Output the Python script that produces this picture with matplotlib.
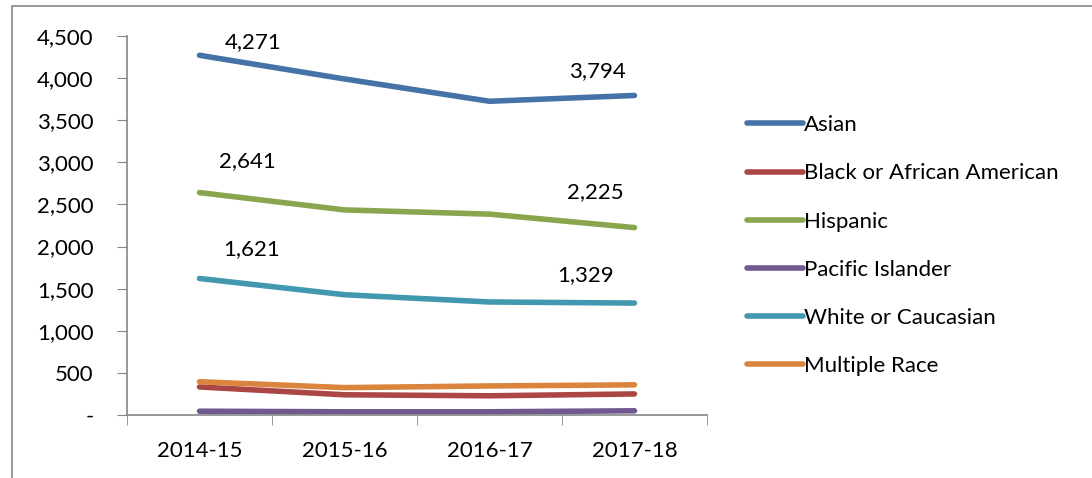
import matplotlib.pyplot as plt
from matplotlib.patches import Rectangle
from matplotlib.ticker import FuncFormatter

plt.rcParams['font.family'] = ['Lato', 'DejaVu Sans']

# Données
years = ['2014-15', '2015-16', '2016-17', '2017-18']
asian = [4271, 3990, 3725, 3794]
black = [333, 240, 228, 250]
hispanic = [2641, 2435, 2385, 2225]
pacific = [45, 38, 38, 50]
white = [1621, 1428, 1342, 1329]
multiple = [395, 325, 345, 358]

series = [
    ('Asian', asian, '#4572A7'),
    ('Black or African American', black, '#AA4643'),
    ('Hispanic', hispanic, '#89A54E'),
    ('Pacific Islander', pacific, '#71588F'),
    ('White or Caucasian', white, '#4198AF'),
    ('Multiple Race', multiple, '#DB843D'),
]

fig = plt.figure(figsize=(10.92, 4.78), dpi=100)
ax = fig.add_axes([0.1163, 0.1318, 0.5311, 0.7929])

x = list(range(len(years)))
for name, vals, col in series:
    ax.plot(x, vals, color=col, lw=4, solid_capstyle='round', label=name)

# Etiquettes de valeurs (premier et dernier point)
labels = [
    (asian, 0, 54, 13), (asian, 3, -37, 24),
    (hispanic, 0, 48, 31), (hispanic, 3, -39, 36),
    (white, 0, 52, 29), (white, 3, -49, 28),
]
for vals, i, dx, dy in labels:
    ax.annotate(f"{vals[i]:,}", (x[i], vals[i]), xytext=(dx, dy),
                textcoords='offset pixels', ha='center', va='center', fontsize=16)

ax.set_xlim(-0.5, 3.5)
ax.set_ylim(0, 4500)
ax.set_yticks(range(0, 4501, 500))
ax.yaxis.set_major_formatter(FuncFormatter(lambda v, p: '-' if v == 0 else f"{int(v):,}"))
ax.set_xticks(x)
ax.set_xticklabels(years)
ax.set_xticks([-0.5, 0.5, 1.5, 2.5, 3.5], minor=True)
ax.tick_params(axis='x', which='major', length=0, pad=19, labelsize=16)
ax.tick_params(axis='x', which='minor', length=7, color='#868686', direction='out')
ax.tick_params(axis='y', length=7, color='#868686', direction='out', pad=17, labelsize=16)

for s in ['top', 'right']:
    ax.spines[s].set_visible(False)
for s in ['left', 'bottom']:
    ax.spines[s].set_color('#868686')
    ax.spines[s].set_linewidth(1.2)

leg = ax.legend(loc='center left', bbox_to_anchor=(0.666, 0.486), bbox_transform=fig.transFigure,
                frameon=False, fontsize=16, handlelength=2.5, handletextpad=0.05, labelspacing=1.27)

# Cadre du graphique
fig.patches.append(Rectangle((12 / 1092, -0.1), 1.2, 1.1 - 6 / 478, transform=fig.transFigure,
                             fill=False, edgecolor='#868686', lw=1.2))

fig.savefig('out.png', dpi=100)
